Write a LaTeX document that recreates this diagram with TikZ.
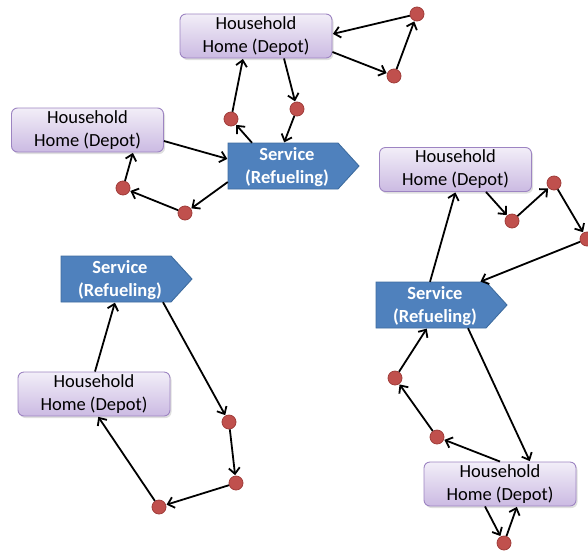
\documentclass[tikz,border=0pt]{standalone}
\usepackage{fontspec}
\setmainfont{Carlito}
\usetikzlibrary{arrows.meta,calc,shadows}
\definecolor{boxtop}{HTML}{F2EEF8}
\definecolor{boxbot}{HTML}{CBBAE2}
\definecolor{boxline}{HTML}{9D84C2}
\definecolor{servfill}{HTML}{4F81BD}
\definecolor{servline}{HTML}{3E6C9F}
\definecolor{dotfill}{HTML}{C0504D}
\definecolor{dotline}{HTML}{A03D3A}
\tikzset{
  home/.style={rectangle, rounded corners=6pt, draw=boxline, line width=0.9pt,
    top color=boxtop, bottom color=boxbot, minimum width=152pt, minimum height=44pt,
    inner sep=0pt, align=center, font=\fontsize{18.5}{23}\selectfont,
    drop shadow={opacity=0.25, shadow xshift=1.5pt, shadow yshift=-2pt}},
  servbody/.style={draw=none, minimum width=110pt, minimum height=46pt, inner sep=0pt},
  servtext/.style={text=white, align=center, font=\fontsize{18.5}{23}\selectfont\bfseries, inner sep=0pt},
  servshape/.style={fill=servfill, draw=servline, line width=0.9pt},
  stop/.style={circle, fill=dotfill, draw=dotline, line width=0.8pt, minimum size=14pt, inner sep=0pt},
  link/.style={line width=1.8pt, -{Straight Barb[length=6pt,width=11pt,line width=1.8pt]}, shorten >=0.5pt}
}
\newcommand{\servicebox}[3]{%
  \coordinate (#1c) at (#2,#3);
  \draw[servshape] ($(#1c)+(-55,-23)$) -- ($(#1c)+(55,-23)$) -- ($(#1c)+(76,0)$)
     -- ($(#1c)+(55,23)$) -- ($(#1c)+(-55,23)$) -- cycle;
  \node[servbody] (#1) at (#1c) {};
  \node[servtext] (#1t) at ($(#1c)+(4,1)$) {Service\\(Refueling)};
}
\begin{document}
\begin{tikzpicture}[x=1pt,y=-1pt]
\useasboundingbox (0,0) rectangle (588,552);
% homes
\node[home] (H1) at (256,36) {Household\\Home (Depot)};
\node[home] (H2) at (87.5,130) {Household\\Home (Depot)};
\node[home] (H3) at (455.5,169.5) {Household\\Home (Depot)};
\node[home] (H5) at (94,394) {Household\\Home (Depot)};
\node[home] (H4) at (500,484) {Household\\Home (Depot)};
% services
\servicebox{S1}{283}{166}
\servicebox{S2}{116}{279}
\servicebox{S3}{431}{305}
% stops
\node[stop] (d1) at (417,14) {};
\node[stop] (d2) at (394,76) {};
\node[stop] (d3) at (231,119) {};
\node[stop] (d4) at (297,109) {};
\node[stop] (d5) at (123,188) {};
\node[stop] (d6) at (185,213) {};
\node[stop] (d7) at (512,221) {};
\node[stop] (d8) at (554,183) {};
\node[stop] (d9) at (587,239) {};
\node[stop] (d10) at (229,422) {};
\node[stop] (d11) at (236,483) {};
\node[stop] (d12) at (159,507) {};
\node[stop] (d13) at (395,378) {};
\node[stop] (d14) at (437,437) {};
\node[stop] (d15) at (504,543) {};
% top cluster
\draw[link] ($(H1.east)+(0,16)$) -- (d2);
\draw[link] (d2) -- (d1);
\draw[link] (d1) -- ($(H1.east)+(0,-2)$);
\draw[link] ($(H1.south)+(28,0)$) -- (d4);
\draw[link] (d4) -- ($(S1.north)+(1,0)$);
\draw[link] ($(S1.north)+(-31,0)$) -- (d3);
\draw[link] (d3) -- ($(H1.south)+(-13,0)$);
% left cluster
\draw[link] ($(H2.east)+(0,11)$) -- ($(S1.west)+(0,-7)$);
\draw[link] ($(S1.west)+(0,16)$) -- (d6);
\draw[link] (d6) -- (d5);
\draw[link] (d5) -- ($(H2.south)+(45.5,0)$);
% right top cluster
\draw[link] ($(H3.south)+(30.5,0)$) -- (d7);
\draw[link] (d7) -- (d8);
\draw[link] (d8) -- (d9);
\draw[link] (d9) -- ($(S3.north)+(49,0)$);
\draw[link] ($(S3.north)+(-1,0)$) -- (H3.south);
% right bottom cluster
\draw[link] ($(S3.south)+(37,0)$) -- ($(H4.north)+(30,0)$);
\draw[link] (H4.north) -- (d14);
\draw[link] (d14) -- (d13);
\draw[link] (d13) -- ($(S3.south)+(-4,0)$);
\draw[link] ($(H4.south)+(-15,0)$) -- (d15);
\draw[link] (d15) -- ($(H4.south)+(17,0)$);
% left bottom cluster
\draw[link] ($(H5.north)+(1,0)$) -- ($(S2.south)+(-1,0)$);
\draw[link] ($(S2.south)+(47,0)$) -- (d10);
\draw[link] (d10) -- (d11);
\draw[link] (d11) -- (d12);
\draw[link] (d12) -- ($(H5.south)+(4,0)$);
\end{tikzpicture}
\end{document}
